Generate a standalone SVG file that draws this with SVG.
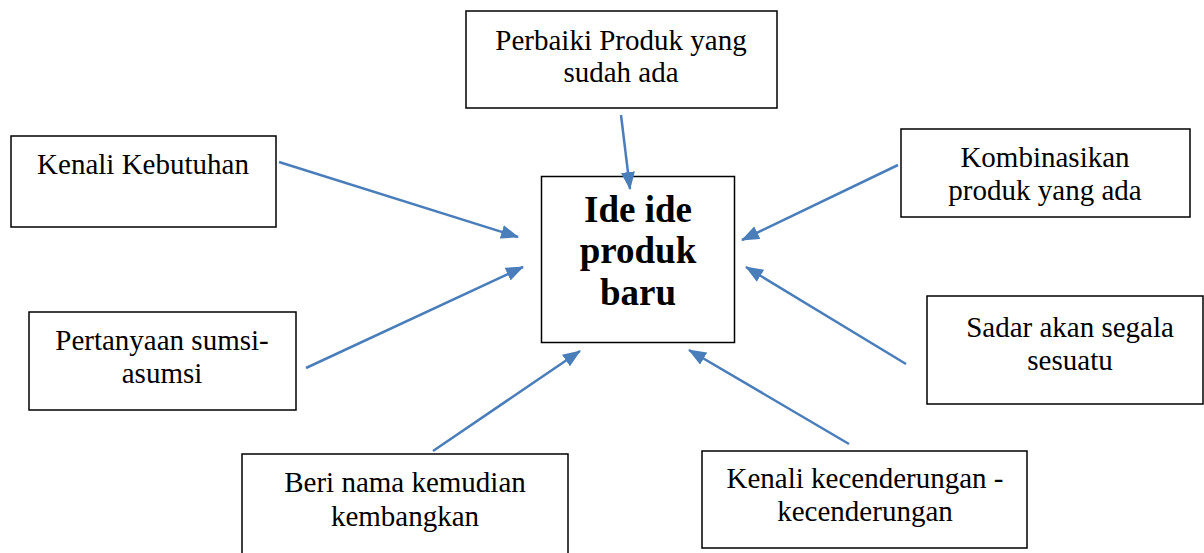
<svg xmlns="http://www.w3.org/2000/svg" width="1204" height="553" viewBox="0 0 1204 553">
  <defs>
    <marker id="arrow" markerUnits="userSpaceOnUse" markerWidth="18" markerHeight="14" viewBox="0 0 18 14" refX="17" refY="7" orient="auto">
      <path d="M0,0 L18,7 L0,14 Z" fill="#4A7EBB"/>
    </marker>
    <style>
      .box { fill: #ffffff; stroke: #000000; stroke-width: 1.5; }
      .lbl { font-family: "Liberation Serif", "Times New Roman", serif; font-size: 29px; fill: #000000; text-anchor: middle; }
      .main { font-family: "Liberation Serif", "Times New Roman", serif; font-size: 37px; font-weight: bold; fill: #000000; text-anchor: middle; }
      .link { stroke: #4A7EBB; stroke-width: 2.5; fill: none; marker-end: url(#arrow); }
    </style>
  </defs>
  <rect width="1204" height="553" fill="#ffffff"/>

  <!-- central node -->
  <g id="ide-produk-baru">
    <rect class="box" x="541.5" y="176.5" width="193" height="166"/>
    <text class="main" x="638" y="222">Ide ide</text>
    <text class="main" x="638" y="263">produk</text>
    <text class="main" x="638" y="305">baru</text>
  </g>

  <g id="perbaiki-produk">
    <rect class="box" x="466" y="11" width="311" height="97"/>
    <text class="lbl" x="621" y="50">Perbaiki Produk yang</text>
    <text class="lbl" x="621" y="82">sudah ada</text>
  </g>

  <g id="kenali-kebutuhan">
    <rect class="box" x="11" y="136" width="265" height="91"/>
    <text class="lbl" x="143" y="174">Kenali Kebutuhan</text>
  </g>

  <g id="kombinasikan">
    <rect class="box" x="901" y="129" width="289" height="88"/>
    <text class="lbl" x="1045" y="167">Kombinasikan</text>
    <text class="lbl" x="1045" y="200">produk yang ada</text>
  </g>

  <g id="pertanyaan-asumsi">
    <rect class="box" x="29" y="312" width="267" height="98"/>
    <text class="lbl" x="162" y="350">Pertanyaan sumsi-</text>
    <text class="lbl" x="162" y="383">asumsi</text>
  </g>

  <g id="sadar">
    <rect class="box" x="927" y="296" width="276" height="108"/>
    <text class="lbl" x="1070" y="337">Sadar akan segala</text>
    <text class="lbl" x="1070" y="370">sesuatu</text>
  </g>

  <g id="beri-nama">
    <rect class="box" x="242" y="454" width="326" height="110"/>
    <text class="lbl" x="405" y="492">Beri nama kemudian</text>
    <text class="lbl" x="405" y="526">kembangkan</text>
  </g>

  <g id="kenali-kecenderungan">
    <rect class="box" x="702" y="451" width="325" height="97"/>
    <text class="lbl" x="865" y="488">Kenali kecenderungan -</text>
    <text class="lbl" x="865" y="521">kecenderungan</text>
  </g>

  <!-- connectors -->
  <g id="connectors">
    <line class="link" x1="621" y1="115" x2="630" y2="189"/>
    <line class="link" x1="279" y1="162" x2="518" y2="237"/>
    <line class="link" x1="898" y1="165" x2="742" y2="240"/>
    <line class="link" x1="306" y1="368" x2="523" y2="267"/>
    <line class="link" x1="906" y1="364" x2="746" y2="267"/>
    <line class="link" x1="433" y1="451" x2="580" y2="351"/>
    <line class="link" x1="849" y1="444" x2="689" y2="350"/>
  </g>
</svg>
